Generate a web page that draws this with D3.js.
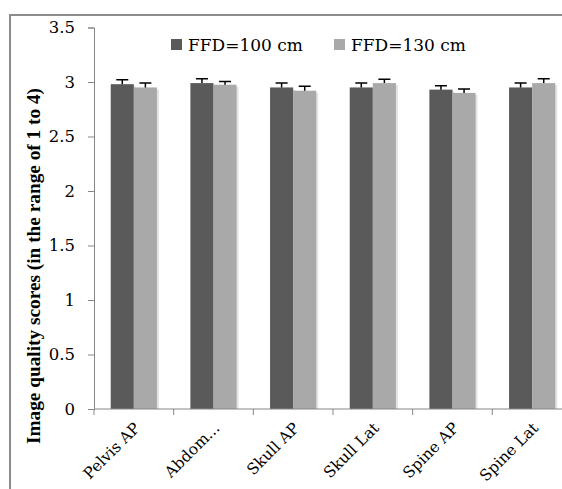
<!DOCTYPE html>
<html>
<head>
<meta charset="utf-8">
<script src="https://cdnjs.cloudflare.com/ajax/libs/d3/7.8.5/d3.min.js"></script>
<style>
  body { margin: 0; background: #fff; }
  svg { display: block; }
</style>
</head>
<body>
<div id="container"></div>
<script>
// Chart data
const categories = ["Pelvis AP", "Abdom...", "Skull AP", "Skull Lat", "Spine AP", "Spine Lat"];
const seriesNames = ["FFD=100 cm", "FFD=130 cm"];
const ffd100 = [2.98, 2.99, 2.95, 2.95, 2.93, 2.95];
const ffd130 = [2.95, 2.975, 2.92, 2.99, 2.90, 2.99];
const err100 = [0.04, 0.04, 0.04, 0.04, 0.035, 0.04];
const err130 = [0.04, 0.03, 0.04, 0.035, 0.035, 0.04];
const yTicks = [0, 0.5, 1, 1.5, 2, 2.5, 3, 3.5];
const colors = ["#5a5a5a", "#a9a9a9"];

// Dimensions
const width = 562,
  height = 489;

const serif = "DejaVu Serif, serif";

const svg = d3.select("#container")
  .append("svg")
  .attr("width", width)
  .attr("height", height);

// Outer frame (top and left edges visible)
svg.append("path")
  .attr("d", `M10,${height} L10,15 L${width},15`)
  .attr("fill", "none")
  .attr("stroke", "#8c8c8c")
  .attr("stroke-width", 2);

// Scales
const x0 = d3.scaleBand()
  .domain(categories)
  .range([94, 572])
  .padding(0);

const x1 = d3.scaleBand()
  .domain(seriesNames)
  .range([x0.bandwidth() * 0.21, x0.bandwidth() * 0.79])
  .padding(0);

const y = d3.scaleLinear()
  .domain([0, 3.5])
  .range([409, 27.5]);

// Rows of data per category
const rows = categories.map((c, i) => ({
  cat: c,
  vals: [
    { key: seriesNames[0], v: ffd100[i], e: err100[i], c: colors[0] },
    { key: seriesNames[1], v: ffd130[i], e: err130[i], c: colors[1] }
  ]
}));

// Y axis
const yAxis = svg.append("g")
  .attr("transform", `translate(${x0.range()[0]},0)`)
  .call(d3.axisLeft(y).tickValues(yTicks).tickSize(6).tickPadding(13).tickFormat(d => String(d)));
yAxis.select(".domain").attr("stroke", "#868686");
yAxis.selectAll(".tick line").attr("stroke", "#868686");
yAxis.selectAll(".tick text")
  .attr("font-family", serif)
  .attr("font-size", 16.5)
  .attr("fill", "#000");

// Bars
const groups = svg.selectAll(".cat")
  .data(rows)
  .join("g")
  .attr("class", "cat")
  .attr("transform", d => `translate(${x0(d.cat)},0)`);

// soft shadow to the right of each bar
groups.selectAll(".shadow")
  .data(d => d.vals)
  .join("rect")
  .attr("class", "shadow")
  .attr("x", d => x1(d.key) + 2)
  .attr("y", d => y(d.v) + 2)
  .attr("width", x1.bandwidth())
  .attr("height", d => y(0) - y(d.v) - 2)
  .attr("fill", "#e4e4e4");

groups.selectAll(".bar")
  .data(d => d.vals)
  .join("rect")
  .attr("class", "bar")
  .attr("x", d => x1(d.key))
  .attr("y", d => y(d.v))
  .attr("width", x1.bandwidth())
  .attr("height", d => y(0) - y(d.v))
  .attr("fill", d => d.c);

// Error bars (plus direction only)
groups.selectAll(".err")
  .data(d => d.vals)
  .join("path")
  .attr("class", "err")
  .attr("d", d => {
    const cx = x1(d.key) + x1.bandwidth() / 2;
    const top = y(d.v + d.e);
    return `M${cx},${y(d.v)} L${cx},${top} M${cx - 6},${top} L${cx + 6},${top}`;
  })
  .attr("stroke", "#000")
  .attr("stroke-width", 1.5)
  .attr("fill", "none");

// X axis
const xAxis = svg.append("g")
  .attr("transform", `translate(0,${y(0)})`);
xAxis.append("line")
  .attr("x1", x0.range()[0])
  .attr("x2", x0.range()[1])
  .attr("stroke", "#868686");
xAxis.selectAll(".xtick")
  .data(categories.concat(["end"]))
  .join("line")
  .attr("class", "xtick")
  .attr("x1", (d, i) => x0.range()[0] + i * x0.step())
  .attr("x2", (d, i) => x0.range()[0] + i * x0.step())
  .attr("y1", 0)
  .attr("y2", 6)
  .attr("stroke", "#868686");

svg.selectAll(".xlabel")
  .data(categories)
  .join("text")
  .attr("class", "xlabel")
  .attr("transform", d => `translate(${x0(d) + x0.bandwidth() / 2 + 7},${y(0) + 20}) rotate(-45)`)
  .attr("text-anchor", "end")
  .attr("font-family", serif)
  .attr("font-size", 15.5)
  .attr("fill", "#000")
  .text(d => d);

// Y axis title
svg.append("text")
  .attr("transform", `translate(40,266) rotate(-90)`)
  .attr("text-anchor", "middle")
  .attr("font-family", "Liberation Serif, serif")
  .attr("font-weight", "bold")
  .attr("font-size", 18)
  .attr("textLength", 356)
  .attr("lengthAdjust", "spacingAndGlyphs")
  .attr("fill", "#000")
  .text("Image quality scores (in the range of 1 to 4)");

// Legend
const legendX = [171, 334];
const legend = svg.selectAll(".legend")
  .data(seriesNames)
  .join("g")
  .attr("class", "legend")
  .attr("transform", (d, i) => `translate(${legendX[i]},39)`);
legend.append("rect")
  .attr("width", 11)
  .attr("height", 11)
  .attr("fill", (d, i) => colors[i]);
legend.append("text")
  .attr("x", 17)
  .attr("y", 11.5)
  .attr("font-family", serif)
  .attr("font-size", 17)
  .attr("fill", "#000")
  .text(d => d);
</script>
</body>
</html>
